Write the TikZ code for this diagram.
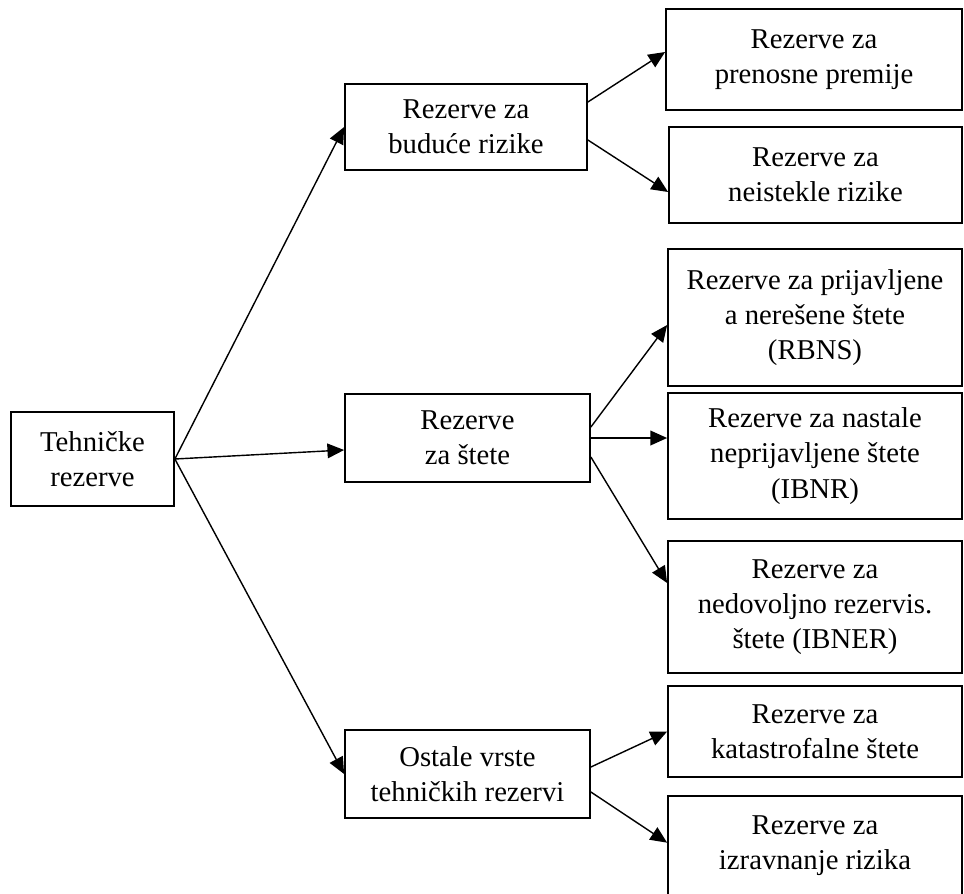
\documentclass[tikz,border=0pt]{standalone}
\usepackage{fontspec}
\setmainfont{Liberation Serif}
\usetikzlibrary{arrows.meta}
\begin{document}
\begin{tikzpicture}[x=0.03cm,y=-0.03cm,
  box/.style={draw, line width=1.5pt, align=center, inner sep=0pt,
    font=\fontsize{24.5}{30}\selectfont},
  arr/.style={line width=1.2pt, -{Triangle[length=0.5cm,width=0.44cm]}}]
\useasboundingbox (0,0) rectangle (964,893);
\clip (0,0) rectangle (964,893);
% left
\node[box, minimum width=4.89cm, minimum height=2.82cm] (teh) at (92.5,459) {Tehničke\\rezerve};
% middle
\node[box, minimum width=7.26cm, minimum height=2.58cm] (bud) at (466,127) {Rezerve za\\buduće rizike};
\node[box, minimum width=7.35cm, minimum height=2.64cm] (ste) at (467.5,438) {Rezerve\\za štete};
\node[box, minimum width=7.35cm, minimum height=2.64cm] (ost) at (467.5,774) {Ostale vrste\\tehničkih rezervi};
% right
\node[box, minimum width=8.88cm, minimum height=3.03cm] (pre) at (814,59.5) {Rezerve za\\prenosne premije};
\node[box, minimum width=8.79cm, minimum height=2.88cm] (nei) at (815.5,175) {Rezerve za\\neistekle rizike};
\node[box, minimum width=8.82cm, minimum height=4.11cm] (rbns) at (815,317.5) {Rezerve za prijavljene\\a nerešene štete\\(RBNS)};
\node[box, minimum width=8.82cm, minimum height=3.78cm] (ibnr) at (815,456) {Rezerve za nastale\\neprijavljene štete\\(IBNR)};
\node[box, minimum width=8.82cm, minimum height=3.96cm] (ibner) at (815,607) {Rezerve za\\nedovoljno rezervis.\\štete (IBNER)};
\node[box, minimum width=8.82cm, minimum height=2.73cm] (kat) at (815,731.5) {Rezerve za\\katastrofalne štete};
\node[box, minimum width=8.82cm, minimum height=3.0cm] (izr) at (815,846) {Rezerve za\\izravnanje rizika};
% arrows from left
\draw[arr] (teh.east) -- (bud.west);
\draw[arr] (teh.east) -- ([yshift=-0.36cm]ste.west);
\draw[arr] (teh.east) -- (ost.west);
% arrows from bud
\draw[arr] ([yshift=0.75cm]bud.east) -- ([yshift=0.225cm]pre.west);
\draw[arr] ([yshift=-0.39cm]bud.east) -- ([yshift=-0.51cm]nei.west);
% arrows from ste
\draw[arr] ([yshift=0.33cm]ste.east) -- ([yshift=-0.225cm]rbns.west);
\draw[arr] (ste.east) -- (ste.east -| ibnr.west);
\draw[arr] ([yshift=-0.57cm]ste.east) -- ([yshift=0.72cm]ibner.west);
% arrows from ost
\draw[arr] ([yshift=0.21cm]ost.east) -- (kat.west);
\draw[arr] ([yshift=-0.54cm]ost.east) -- ([yshift=0.1cm]izr.west);
\end{tikzpicture}
\end{document}
